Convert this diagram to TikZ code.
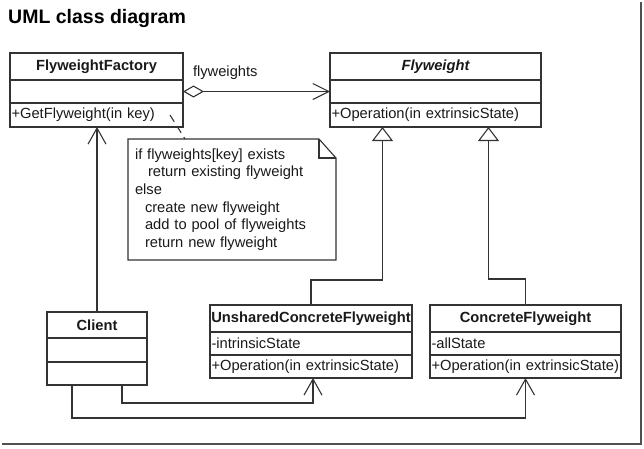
\documentclass[tikz,border=0pt]{standalone}
\usepackage{fontspec}
\setmainfont{Liberation Sans}
\usetikzlibrary{
    positioning,  % For stacking the class compartments (below=of)
    arrows.meta   % For open arrows, the diamond and the triangle tips
}
\definecolor{linegray}{HTML}{333333}
\definecolor{framegray}{HTML}{505050}

\begin{document}
\begin{tikzpicture}[
    x=1pt, y=-1pt,
    % Style for the class name compartment
    class_head/.style={
        draw=linegray, line width=1.1pt,
        outer sep=0pt, inner sep=0pt,
        font=\fontsize{14.7}{17}\selectfont\bfseries,
        text=black!90,
        minimum height=27pt
    },
    % Style for the attribute and operation compartments
    class_row/.style={
        draw=linegray, line width=1.1pt,
        outer sep=0pt, inner ysep=0pt, inner xsep=1.5pt,
        align=left,
        font=\fontsize{14.7}{17}\selectfont,
        text=black!90
    },
    % Style for the note text
    note_text/.style={
        inner xsep=7pt, inner ysep=0pt, outer sep=0pt,
        align=left, text width=194pt,
        font=\fontsize{14.7}{17.6}\selectfont,
        text=black!90
    },
    % Style for the role name on the aggregation
    role_text/.style={
        inner sep=0pt, outer sep=0pt,
        font=\fontsize{14.7}{17}\selectfont,
        text=black!90
    },
    % Style for all lines
    assoc/.style={
        draw=linegray, line width=1.1pt
    },
    % Arrow tips
    open_arrow/.style={
        -{Straight Barb[length=16pt, width=18pt]}
    },
    inherit/.style={
        -{Triangle[open, length=14pt, width=21pt]}
    }
]
    \useasboundingbox (0,0) rectangle (644,448);

    % 0. Title
    \node[anchor=base west, inner sep=0pt, font=\fontsize{19.5}{23}\selectfont\bfseries] (title) at (8,23) {UML class diagram};

    % 1. Class boxes (name, attributes, operations)
    \node[class_head, minimum width=173pt, anchor=north west] (factory) at (10,53) {FlyweightFactory};
    \node[class_row, text width=170pt, minimum height=23pt, below=0pt of factory] (factory_attr) {};
    \node[class_row, text width=170pt, minimum height=24pt, below=0pt of factory_attr] (factory_ops) {+GetFlyweight(in key)};

    \node[class_head, minimum width=211pt, anchor=north west] (flyweight) at (330,53) {\itshape Flyweight};
    \node[class_row, text width=208pt, minimum height=23pt, below=0pt of flyweight] (flyweight_attr) {};
    \node[class_row, text width=208pt, minimum height=24pt, below=0pt of flyweight_attr] (flyweight_ops) {+Operation(in extrinsicState)};

    \node[class_head, minimum width=100pt, minimum height=26pt, anchor=north west] (client) at (47,312) {Client};
    \node[class_row, text width=97pt, minimum height=24pt, below=0pt of client] (client_attr) {};
    \node[class_row, text width=97pt, minimum height=23pt, below=0pt of client_attr] (client_ops) {};

    \node[class_head, minimum width=202pt, anchor=north west] (unshared) at (210,305) {UnsharedConcreteFlyweight};
    \node[class_row, text width=199pt, minimum height=23pt, below=0pt of unshared] (unshared_attr) {-intrinsicState};
    \node[class_row, text width=199pt, minimum height=23pt, below=0pt of unshared_attr] (unshared_ops) {+Operation(in extrinsicState)};

    \node[class_head, minimum width=191pt, anchor=north west] (concrete) at (430,305) {ConcreteFlyweight};
    \node[class_row, text width=188pt, minimum height=23pt, below=0pt of concrete] (concrete_attr) {-allState};
    \node[class_row, text width=188pt, minimum height=23pt, below=0pt of concrete_attr] (concrete_ops) {+Operation(in extrinsicState)};

    % 2. The note with its folded corner
    \node[note_text, minimum width=208pt, minimum height=121pt, anchor=north west] (note) at (128,139)
        {if flyweights[key] exists\\
         \hspace*{13pt}return existing flyweight\\
         else\\
         \hspace*{10pt}create new flyweight\\
         \hspace*{10pt}add to pool of flyweights\\
         \hspace*{10pt}return new flyweight};
    \draw[assoc] (note.north west) -- ([xshift=-17pt]note.north east) -- ([yshift=-19pt]note.north east)
        -- (note.south east) -- (note.south west) -- cycle;
    \draw[assoc] ([xshift=-17pt]note.north east) |- ([yshift=-19pt]note.north east);
    \draw[assoc, dash pattern=on 8pt off 5pt] ([xshift=-13pt]factory_ops.east) -- ([xshift=57pt]note.north west);

    % 3. Aggregation with its role name
    \draw[assoc, {Diamond[open, length=21pt, width=12pt]}-{Straight Barb[length=16pt, width=16pt]}]
        (factory_attr.east) -- (flyweight_attr.west);
    \node[role_text, above right=12pt and 10pt of factory_attr.east] (role) {flyweights};

    % 4. Associations from the client
    \draw[assoc, open_arrow] (client.north) -- (client.north |- factory_ops.south);
    \draw[assoc, open_arrow] ([xshift=-25pt]client_ops.south east) -- ++(0,18) -| ([xshift=2pt]unshared_ops.south);
    \draw[assoc, open_arrow] ([xshift=25pt]client_ops.south west) -- ++(0,33) -| (concrete_ops.south);

    % 5. Generalizations up to Flyweight
    \draw[assoc, inherit] (unshared.north) -- ++(0,-25) -| ([xshift=-53pt]flyweight_ops.south);
    \draw[assoc, inherit] (concrete.north) -- ++(0,-26) -| ([xshift=53pt]flyweight_ops.south);

    % 6. Picture frame shadow
    \draw[framegray, line width=2.5pt] (2,444) -- (641,444) -- (641,2);
\end{tikzpicture}
\end{document}
